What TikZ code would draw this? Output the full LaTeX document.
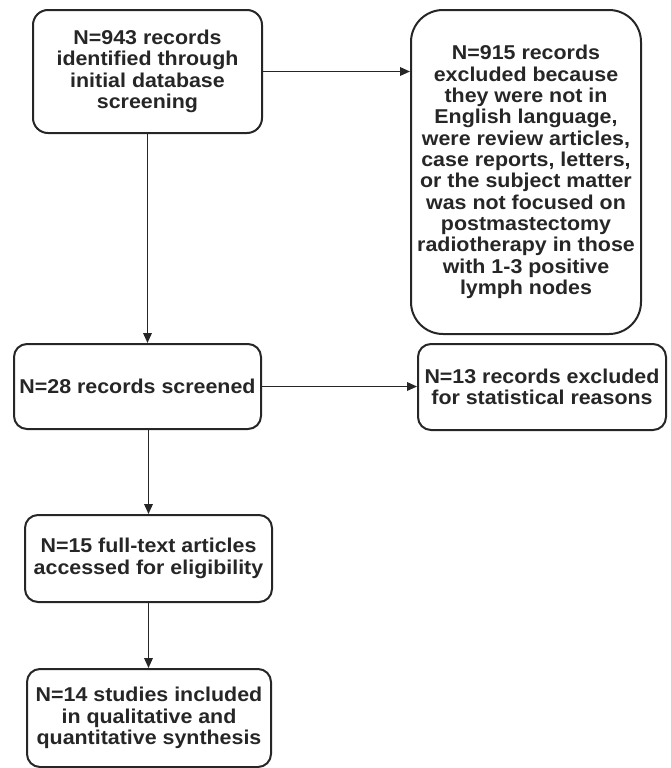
\documentclass[tikz,border=0pt]{standalone}
\usepackage{fontspec}
\setmainfont{Liberation Sans}[FakeStretch=1.07]
\usetikzlibrary{arrows.meta}
\definecolor{ink}{HTML}{262626}
\tikzset{
  box/.style={draw=ink, line width=1.5pt, rectangle, rounded corners=9.75pt,
    align=center, inner sep=0pt, text=ink,
    font=\bfseries\fontsize{15pt}{16pt}\selectfont},
  conn/.style={draw=ink, line width=1pt, -{Triangle[length=7.5pt,width=6.5pt]}}
}
\begin{document}
\begin{tikzpicture}[x=0.75pt,y=-0.75pt]
\useasboundingbox (0,0) rectangle (671,768);
\node[box, rounded corners=11.25pt, minimum width=171.75pt, minimum height=92.25pt] (b1) at (147.5,71.5)
  {N=943 records\\identified through\\initial database\\screening};
\node[box, rounded corners=24pt, minimum width=172.5pt, minimum height=243pt] (b2) at (526,172)
  {N=915 records\\excluded because\\they were not in\\English language,\\were review articles,\\case reports, letters,\\or the subject matter\\was not focused on\\postmastectomy\\radiotherapy in those\\with 1-3 positive\\lymph nodes};
\node[box, minimum width=185.25pt, minimum height=63.75pt] (b3) at (137.5,386.5)
  {N=28 records screened};
\node[box, minimum width=186pt, minimum height=64.5pt] (b4) at (542,387)
  {N=13 records excluded\\for statistical reasons};
\node[box, minimum width=185.25pt, minimum height=65.25pt] (b5) at (148.5,558.5)
  {N=15 full-text articles\\accessed for eligibility};
\node[box, minimum width=183pt, minimum height=73.5pt] (b6) at (149,718)
  {N=14 studies included\\in qualitative and\\quantitative synthesis};
\draw[conn] (b1.east) -- (b1.east -| b2.west);
\draw[conn] (b1.south) -- (b1.south |- b3.north);
\draw[conn] (b3.east) -- (b3.east -| b4.west);
\draw[conn] (b5.north |- b3.south) -- (b5.north);
\draw[conn] (b5.south) -- (b5.south |- b6.north);
\end{tikzpicture}
\end{document}
